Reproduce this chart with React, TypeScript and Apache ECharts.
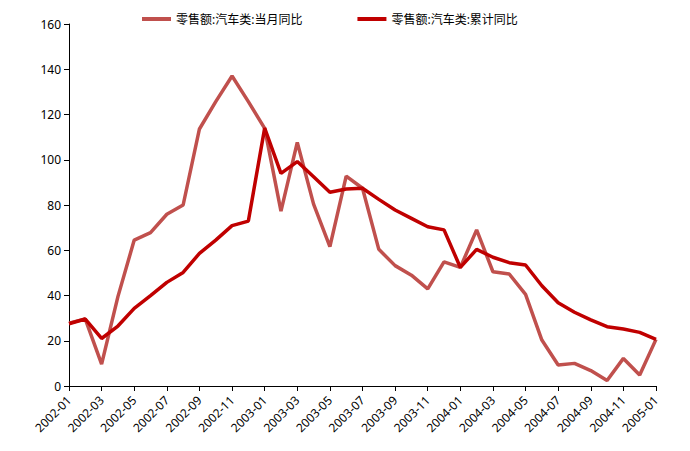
import React, { useEffect, useRef } from "react";
import * as echarts from "echarts";

const months: string[] = [
  "2002-01","2002-02","2002-03","2002-04","2002-05","2002-06","2002-07","2002-08","2002-09","2002-10","2002-11","2002-12",
  "2003-01","2003-02","2003-03","2003-04","2003-05","2003-06","2003-07","2003-08","2003-09","2003-10","2003-11","2003-12",
  "2004-01","2004-02","2004-03","2004-04","2004-05","2004-06","2004-07","2004-08","2004-09","2004-10","2004-11","2004-12",
  "2005-01",
];

const monthlyYoY: number[] = [
  27.8, 29.6, 9.7, 39.5, 64.5, 67.8, 75.9, 80, 113.6, 125.7, 137, 125.7,
  113.9, 77.3, 107.7, 80.4, 61.6, 92.8, 87.4, 60.4, 53.2, 49, 42.9, 54.9,
  52.4, 69, 50.5, 49.5, 40.5, 20.3, 9.3, 10, 6.8, 2.4, 12.2, 4.9,
  20.6,
];

const cumulativeYoY: number[] = [
  27.5, 29.6, 21, 26.5, 34.3, 39.9, 45.8, 50.2, 58.6, 64.5, 70.9, 72.9,
  114, 94, 99.2, 92.5, 85.6, 87.1, 87.4, 82.5, 77.8, 74.1, 70.4, 69,
  52.4, 60.4, 56.9, 54.5, 53.5, 44.3, 36.8, 32.6, 29.2, 26.2, 25.2, 23.7,
  20.6,
];

const seriesNames: string[] = ["零售额:汽车类:当月同比", "零售额:汽车类:累计同比"];

export default function App() {
  const ref = useRef<HTMLDivElement>(null);
  useEffect(() => {
    if (!ref.current) return;
    const chart = echarts.init(ref.current, undefined, { renderer: "svg" });
    const font = "'Noto Sans', 'Noto Sans CJK SC', sans-serif";
    chart.setOption({
      animation: false,
      textStyle: { fontFamily: font },
      legend: {
        top: 8,
        left: 137,
        icon: "rect",
        itemWidth: 29,
        itemHeight: 4,
        itemGap: 55,
        textStyle: { fontSize: 12, color: "#000", fontFamily: font },
        data: seriesNames,
      },
      grid: { left: 69, right: 34, top: 24, bottom: 65, containLabel: false },
      xAxis: {
        type: "category",
        data: months,
        boundaryGap: false,
        axisLine: { lineStyle: { color: "#000", width: 1 } },
        axisTick: { interval: 1, length: 5, lineStyle: { color: "#000" } },
        axisLabel: {
          interval: 1,
          rotate: 45,
          color: "#000",
          fontSize: 12,
          margin: 12,
          fontFamily: font,
        },
        splitLine: { show: false },
      },
      yAxis: {
        type: "value",
        min: 0,
        max: 160,
        interval: 20,
        axisLine: { show: true, lineStyle: { color: "#000", width: 1 } },
        axisTick: { show: true, length: 5, lineStyle: { color: "#000" } },
        axisLabel: { color: "#000", fontSize: 12, margin: 8, fontFamily: font },
        splitLine: { show: false },
      },
      series: [
        {
          name: seriesNames[0],
          type: "line",
          data: monthlyYoY,
          showSymbol: false,
          symbol: "none",
          lineStyle: { color: "#C0504D", width: 3.5 },
          itemStyle: { color: "#C0504D" },
        },
        {
          name: seriesNames[1],
          type: "line",
          data: cumulativeYoY,
          showSymbol: false,
          symbol: "none",
          lineStyle: { color: "#C00000", width: 3.5 },
          itemStyle: { color: "#C00000" },
        },
      ],
    });
    return () => chart.dispose();
  }, []);
  return <div ref={ref} style={{ width: 690, height: 451, position: "absolute", left: 0, top: 0 }} />;
}
